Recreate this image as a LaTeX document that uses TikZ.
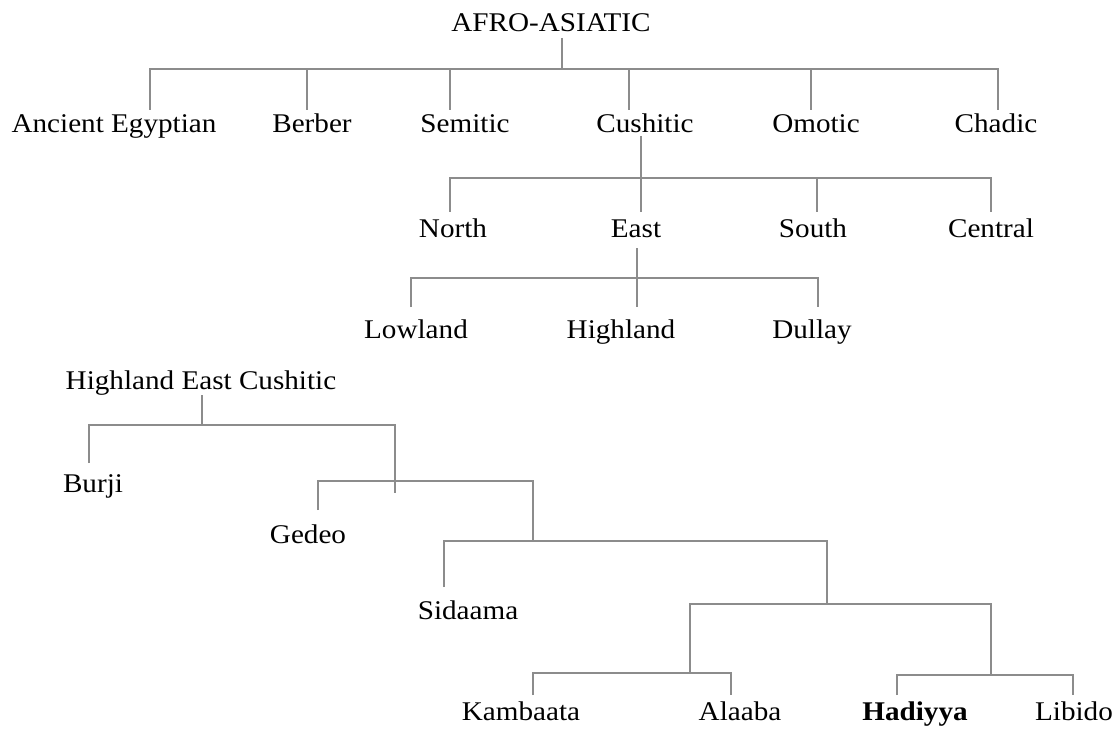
\documentclass[tikz,border=0pt]{standalone}
\usepackage{fontspec}
\setmainfont{Liberation Serif}[FakeStretch=1.08]
\usepackage{tikz}
\definecolor{linegray}{HTML}{8C8C8C}

\begin{document}
\begin{tikzpicture}[x=1pt, y=-1pt,
  lang/.style={anchor=base, inner sep=0pt, font=\fontsize{27}{31}\selectfont},
  branch/.style={draw=linegray, line width=1.1pt}]
\useasboundingbox (0,0) rectangle (1119,730);
% languages
\node[lang] (afro) at (551,32) {AFRO-ASIATIC};
\node[lang] (ae) at (114,133) {Ancient Egyptian};
\node[lang] (berb) at (312,133) {Berber};
\node[lang] (sem) at (465,133) {Semitic};
\node[lang] (cush) at (645,133) {Cushitic};
\node[lang] (omo) at (816,133) {Omotic};
\node[lang] (chad) at (996,133) {Chadic};
\node[lang] (north) at (453,237) {North};
\node[lang] (east) at (636,237) {East};
\node[lang] (south) at (813,237) {South};
\node[lang] (cent) at (991,237) {Central};
\node[lang] (low) at (416,338) {Lowland};
\node[lang] (high) at (621,338) {Highland};
\node[lang] (dull) at (812,338) {Dullay};
\node[lang] (hec) at (201,389) {Highland East Cushitic};
\node[lang] (burji) at (93,492) {Burji};
\node[lang] (gedeo) at (308,543) {Gedeo};
\node[lang] (sid) at (468,619) {Sidaama};
\node[lang] (kam) at (521,720) {Kambaata};
\node[lang] (ala) at (740,720) {Alaaba};
\node[lang] (had) at (915,720) {\textbf{Hadiyya}};
\node[lang] (lib) at (1074,720) {Libido};
% branch points
\coordinate (afro-s) at (562,38);
\coordinate (afro-j) at (562,69);
\coordinate (ae-t) at (150,110);
\coordinate (berb-t) at (307,110);
\coordinate (sem-t) at (450,110);
\coordinate (cush-t) at (629,110);
\coordinate (omo-t) at (811,110);
\coordinate (chad-t) at (998,110);
\coordinate (cush-s) at (641,136);
\coordinate (cush-j) at (641,178);
\coordinate (north-t) at (450,212);
\coordinate (east-t) at (641,212);
\coordinate (south-t) at (817,212);
\coordinate (cent-t) at (991,212);
\coordinate (east-s) at (637,248);
\coordinate (east-j) at (637,278);
\coordinate (low-t) at (411,307);
\coordinate (high-t) at (637,307);
\coordinate (dull-t) at (818,307);
\coordinate (hec-s) at (202,395);
\coordinate (hec-j) at (202,425);
\coordinate (burji-t) at (89,463);
\coordinate (hec-r) at (395,493);
\coordinate (gedeo-t) at (318,510);
\coordinate (ged-bar) at (533,481);
\coordinate (sid-t) at (444,587);
\coordinate (sid-bar) at (827,541);
\coordinate (ka-bar) at (991,604);
\coordinate (kam-j) at (690,673);
\coordinate (had-j) at (991,675);
\coordinate (kam-t) at (533,695);
\coordinate (ala-t) at (731,695);
\coordinate (had-t) at (897,695);
\coordinate (lib-t) at (1073,695);
% upper tree
\draw[branch] (afro-s) -- (afro-j);
\draw[branch] (ae-t) |- (chad-t |- afro-j) -- (chad-t);
\foreach \c in {berb,sem,cush,omo}
  \draw[branch] (\c-t |- afro-j) -- (\c-t);
\draw[branch] (cush-s) -- (east-t);
\draw[branch] (north-t) |- (cent-t |- cush-j) -- (cent-t);
\draw[branch] (south-t |- cush-j) -- (south-t);
\draw[branch] (east-s) -- (high-t);
\draw[branch] (low-t) |- (dull-t |- east-j) -- (dull-t);
% Highland East Cushitic
\draw[branch] (hec-s) -- (hec-j);
\draw[branch] (burji-t) |- (hec-r |- hec-j) -- (hec-r);
\draw[branch] (gedeo-t) |- (ged-bar) -- (ged-bar |- sid-bar);
\draw[branch] (sid-t) |- (sid-bar) -- (sid-bar |- ka-bar);
\draw[branch] (kam-j) |- (ka-bar) -- (had-j);
\draw[branch] (kam-t) |- (ala-t |- kam-j) -- (ala-t);
\draw[branch] (had-t) |- (lib-t |- had-j) -- (lib-t);
\end{tikzpicture}
\end{document}
